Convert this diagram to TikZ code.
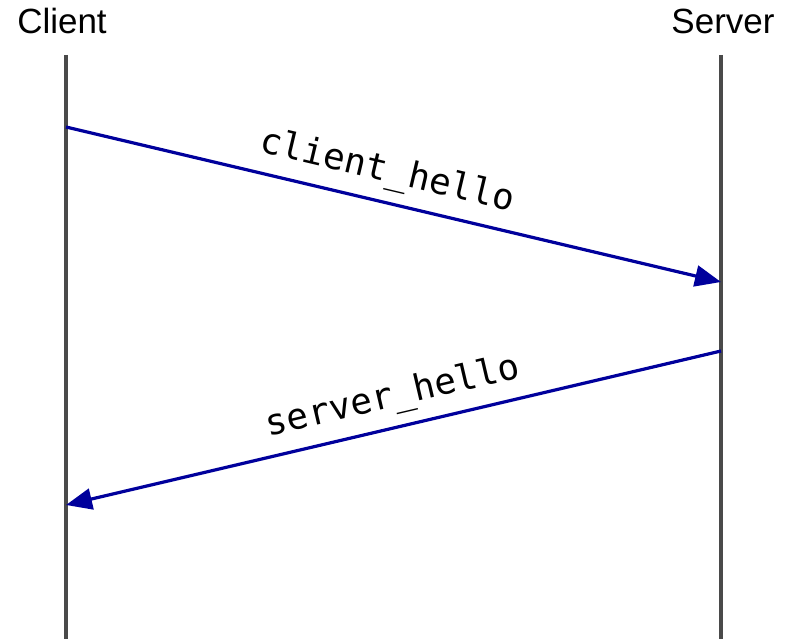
\documentclass[tikz,border=0pt]{standalone}
\usepackage{fontspec}
\setmainfont{Liberation Sans}
\newfontfamily\msgfont{DejaVu Sans Mono}
\usetikzlibrary{arrows.meta}
\definecolor{lifegray}{HTML}{4A4A4A}
\definecolor{msgblue}{HTML}{00009C}

\begin{document}
\begin{tikzpicture}[x=1pt,y=-1pt]
\tikzset{party/.style={anchor=base, font=\fontsize{35}{35}\selectfont, inner sep=0pt},
  lifeline/.style={draw=lifegray, line width=3.2pt},
  msg/.style={draw=msgblue, line width=3.2pt, -{Triangle[length=26pt,width=21pt]}},
  msglabel/.style={font=\msgfont\fontsize{36}{36}\selectfont, sloped, above, inner sep=10pt}}
\useasboundingbox (0,0) rectangle (790,639);
\node[party] (client) at (62,34) {Client};
\node[party] (server) at (723,34) {Server};
\coordinate (ctop) at (66,55);
\coordinate (cbot) at (66,639);
\coordinate (stop) at (721,55);
\coordinate (sbot) at (721,639);
\draw[lifeline] (ctop) -- (cbot);
\draw[lifeline] (stop) -- (sbot);
\coordinate (c1) at (66,127);
\coordinate (s1) at (721,282);
\coordinate (s2) at (721,351);
\coordinate (c2) at (66,505);
\draw[msg] (c1) -- node[msglabel, pos=0.48] (chello) {client\_hello} (s1);
\draw[msg] (s2) -- node[msglabel, pos=0.49] (shello) {server\_hello} (c2);
\end{tikzpicture}
\end{document}
